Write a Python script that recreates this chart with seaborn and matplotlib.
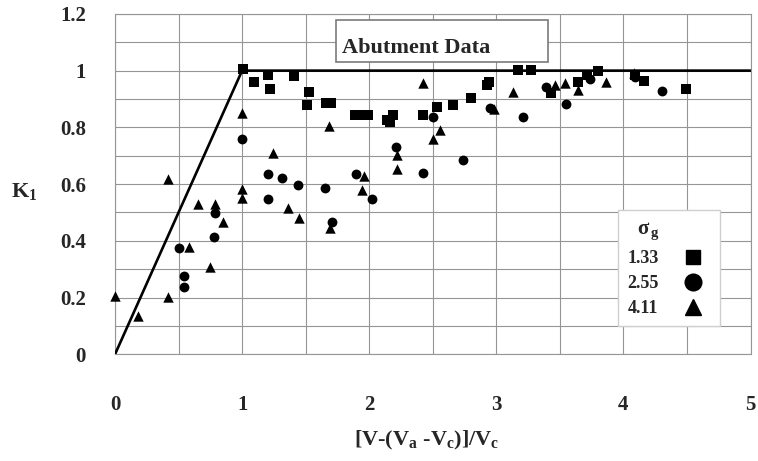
import numpy as np
import pandas as pd
import matplotlib
matplotlib.use("Agg")
import matplotlib.pyplot as plt
import seaborn as sns
from matplotlib.lines import Line2D
from matplotlib.patches import Rectangle
from matplotlib.ticker import FuncFormatter

# ---------------- data ----------------
sq_x = [1.01, 1.09, 1.20, 1.22, 1.41, 1.53, 1.51, 1.66, 1.70, 1.885, 1.94, 1.99, 2.14, 2.16, 2.19,
        2.42, 2.53, 2.66, 2.80, 2.93, 2.94, 3.17, 3.27, 3.43, 3.64, 3.71, 3.80, 4.09, 4.16, 4.49]
sq_y = [1.005, 0.961, 0.985, 0.934, 0.982, 0.926, 0.879, 0.887, 0.887, 0.843, 0.845, 0.845, 0.826, 0.82, 0.843,
        0.843, 0.873, 0.879, 0.902, 0.949, 0.96, 1.002, 1.002, 0.92, 0.961, 0.985, 1.0, 0.985, 0.963, 0.937]

ci_x = [0.50, 0.54, 0.54, 0.78, 0.79, 1.0, 1.20, 1.20, 1.31, 1.44, 1.65, 1.71, 1.90, 2.02, 2.21,
        2.42, 2.50, 2.74, 2.95, 3.21, 3.39, 3.55, 3.74, 4.09, 4.30]
ci_y = [0.374, 0.276, 0.238, 0.415, 0.499, 0.759, 0.634, 0.546, 0.620, 0.597, 0.587, 0.467, 0.636, 0.546, 0.730,
        0.638, 0.838, 0.685, 0.867, 0.838, 0.941, 0.882, 0.970, 0.976, 0.929]

tr_x = [0.0, 0.18, 0.42, 0.42, 0.58, 0.65, 0.75, 0.79, 0.85, 1.0, 1.0, 1.0, 1.24, 1.36, 1.45, 1.68,
        1.69, 1.94, 1.96, 2.22, 2.22, 2.42, 2.50, 2.56, 2.98, 3.13, 3.46, 3.54, 3.64, 3.86, 4.08]
tr_y = [0.206, 0.135, 0.618, 0.203, 0.379, 0.529, 0.309, 0.529, 0.467, 0.849, 0.582, 0.552, 0.711, 0.517, 0.481, 0.805,
        0.446, 0.579, 0.630, 0.702, 0.653, 0.955, 0.758, 0.791, 0.864, 0.926, 0.949, 0.957, 0.932, 0.961, 0.990]

sigma_labels = ["1.33", "2.55", "4.11"]
env_x = [0, 1, 5]
env_y = [0, 1, 1]
x_ticks = [0, 1, 2, 3, 4, 5]
y_ticks = [0, 0.2, 0.4, 0.6, 0.8, 1.0, 1.2]

# ---------------- style ----------------
sns.set_theme(style="white")
plt.rcParams["font.family"] = ["Liberation Serif", "DejaVu Serif"]
plt.rcParams["font.weight"] = "bold"
plt.rcParams["mathtext.fontset"] = "custom"
plt.rcParams["mathtext.rm"] = "Liberation Serif"
plt.rcParams["mathtext.bf"] = "Liberation Serif:bold"
plt.rcParams["mathtext.it"] = "Liberation Serif:italic"

W, H = 758, 461
fig = plt.figure(figsize=(W / 100, H / 100), dpi=100)
ax = fig.add_axes([115 / W, (H - 354.3) / H, (750.5 - 115) / W, (354.3 - 13.9) / H])

grid_c = "#959595"

groups = [
    (sq_x, sq_y, "s", 50),
    (ci_x, ci_y, "o", 50),
    (tr_x, tr_y, "^", 56),
]
for (gx, gy, mk, s), lab in zip(groups, sigma_labels):
    df = pd.DataFrame({"x": gx, "y": gy})
    sns.scatterplot(data=df, x="x", y="y", marker=mk, s=s, color="black",
                    edgecolor="black", linewidth=0, ax=ax, legend=False,
                    clip_on=False, zorder=4)

sns.lineplot(x=env_x, y=env_y, color="black", linewidth=1.9, ax=ax,
             sort=False, estimator=None, zorder=3)

ax.set_xlim(0, 5)
ax.set_ylim(0, 1.2)
ax.set_xticks(x_ticks)
ax.set_yticks(y_ticks)
ax.set_xticks(np.arange(0, 5.01, 0.5), minor=True)
ax.set_yticks(np.arange(0, 1.201, 0.1), minor=True)
ax.yaxis.set_major_formatter(FuncFormatter(lambda v, p: f"{v:g}"))
ax.xaxis.set_major_formatter(FuncFormatter(lambda v, p: f"{v:g}"))
ax.grid(True, which="both", color=grid_c, linewidth=0.8)
ax.set_axisbelow(True)
for sp in ax.spines.values():
    sp.set_color(grid_c)
    sp.set_linewidth(0.8)
ax.tick_params(axis="both", which="major", length=6, width=0.8, color=grid_c,
               labelsize=15, direction="out")
ax.tick_params(axis="x", which="major", pad=23)
ax.tick_params(axis="y", which="major", pad=15)
ax.tick_params(axis="both", which="minor", length=0)
for t in ax.get_xticklabels() + ax.get_yticklabels():
    t.set_fontweight("bold")
ax.set_xlabel("")
ax.set_ylabel("")

# axis titles
fig.text(24 / W, 1 - 192 / H, r"$\mathbf{K_1}$", fontsize=16, ha="center", va="center")
fig.text(427 / W, 1 - 440 / H, r"$\mathbf{[V‐(V_a\ ‐V_c)]/V_c}$", fontsize=16,
         ha="center", va="center")

# "Abutment Data" box
fig.patches.append(Rectangle((336 / W, 1 - 62 / H), (548 - 336) / W, (62 - 20) / H,
                             transform=fig.transFigure, facecolor="white",
                             edgecolor="#7a7a7a", linewidth=1.2, zorder=5))
fig.text(342 / W, 1 - 53 / H, "Abutment Data", fontsize=16, fontweight="bold",
         ha="left", va="baseline", zorder=6)

# legend
handles = [
    Line2D([], [], linestyle="none", marker="s", markersize=10.5, color="black"),
    Line2D([], [], linestyle="none", marker="o", markersize=12, color="black"),
    Line2D([], [], linestyle="none", marker="^", markersize=12, color="black"),
]
leg = ax.legend(handles, sigma_labels, title=r"  $\mathrm{σ}_{\,\mathbf{g}}$",
                loc="upper left", bbox_to_anchor=(618 / W, 1 - 210 / H),
                bbox_transform=fig.transFigure, markerfirst=False,
                frameon=True, fancybox=False, framealpha=1, edgecolor="#cfcfcf",
                prop={"family": "Liberation Serif", "weight": "bold", "size": 13},
                title_fontsize=15, alignment="left", labelspacing=0.45,
                handletextpad=0.9, handlelength=2.0, borderpad=0.5,
                borderaxespad=0)
leg.get_frame().set_linewidth(1.0)
leg.set_zorder(6)

fig.savefig("out.png", dpi=100)
